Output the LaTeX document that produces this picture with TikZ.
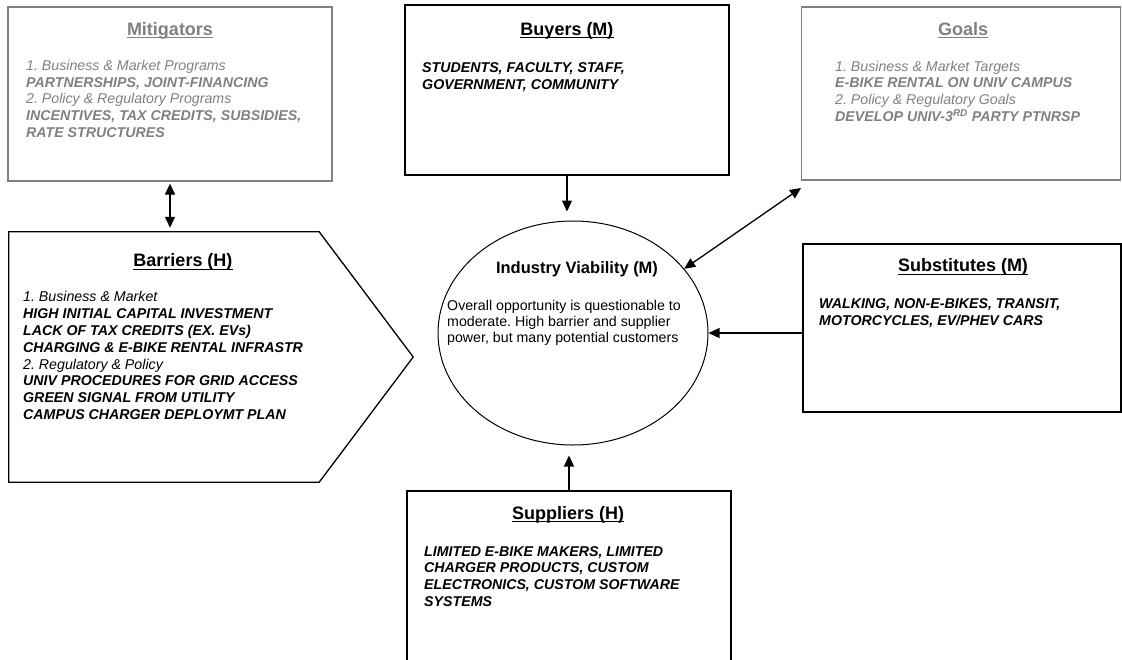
\documentclass[tikz,border=0pt]{standalone}
\usepackage{fontspec}
\setmainfont{Liberation Sans}
\usetikzlibrary{arrows.meta,shapes.geometric,calc}
\definecolor{mute}{RGB}{128,128,128}
\frenchspacing
% underline drawn at a fixed depth below the baseline
\newcommand{\headline}[1]{\setbox0=\hbox{#1}\rlap{\vrule height -2.2pt depth 3.4pt width \wd0}\box0}

\begin{document}
\begin{tikzpicture}[x=1pt,y=-1pt,
  >={Triangle[length=11pt,width=10pt]},
  panel/.style={draw, line width=1.3pt, rectangle, inner sep=0pt},
  softpanel/.style={panel, draw=mute},
  heading/.style={font=\fontsize{18}{21}\selectfont\bfseries, anchor=base, inner sep=0pt},
  % multi-line bodies are placed by the baseline of their last line
  body/.style={font=\fontsize{14.2}{16.8}\selectfont, anchor=base west, align=left, inner sep=0pt},
  link/.style={line width=1.3pt}
]
\clip (0,0) rectangle (1122,659);
\useasboundingbox (0,0) rectangle (1122,659);

% Mitigators
\node[softpanel, minimum width=324pt, minimum height=174pt] (mit) at (170,94) {};
\node[heading, text=mute] (mitT) at (170,35) {\headline{Mitigators}};
\node[body, text=mute] (mitB) at (26,137.5) {%
  {\itshape 1. Business \& Market Programs}\\
  {\bfseries\itshape PARTNERSHIPS, JOINT-FINANCING}\\
  {\itshape 2. Policy \& Regulatory Programs}\\
  {\bfseries\itshape INCENTIVES, TAX CREDITS, SUBSIDIES,}\\
  {\bfseries\itshape RATE STRUCTURES}};

% Buyers
\node[panel, minimum width=324pt, minimum height=170pt] (buy) at (567,90) {};
\node[heading] (buyT) at (567,35) {\headline{Buyers (M)}};
\node[body] (buyB) at (422,89.5) {%
  {\bfseries\itshape STUDENTS, FACULTY, STAFF,}\\
  {\bfseries\itshape GOVERNMENT, COMMUNITY}};

% Goals
\node[softpanel, minimum width=319pt, minimum height=173pt] (goal) at (961,93.5) {};
\node[heading, text=mute] (goalT) at (963,35) {\headline{Goals}};
\node[body, text=mute] (goalB) at (835,121.5) {%
  {\itshape 1. Business \& Market Targets}\\
  {\bfseries\itshape E-BIKE RENTAL ON UNIV CAMPUS}\\
  {\itshape 2. Policy \& Regulatory Goals}\\
  {\bfseries\itshape DEVELOP UNIV-3\textsuperscript{RD} PARTY PTNRSP}};

% Barriers (pentagon pointing right)
\node[minimum width=404pt, minimum height=250pt, inner sep=0pt] (bar) at (211,357) {};
\draw[line width=1.3pt, line join=miter]
  (bar.north west) -- ($(bar.north east)+(-94,0)$) -- (bar.east)
  -- ($(bar.south east)+(-94,0)$) -- (bar.south west) -- cycle;
\node[heading] (barT) at (183,266.5) {\headline{Barriers (H)}};
\node[body] (barB) at (23,419.5) {%
  {\itshape 1. Business \& Market}\\
  {\bfseries\itshape HIGH INITIAL CAPITAL INVESTMENT}\\
  {\bfseries\itshape LACK OF TAX CREDITS (EX. EVs)}\\
  {\bfseries\itshape CHARGING \& E-BIKE RENTAL INFRASTR}\\
  {\itshape 2. Regulatory \& Policy}\\
  {\bfseries\itshape UNIV PROCEDURES FOR GRID ACCESS}\\
  {\bfseries\itshape GREEN SIGNAL FROM UTILITY}\\
  {\bfseries\itshape CAMPUS CHARGER DEPLOYMT PLAN}};

% Industry viability
\node[draw, ellipse, line width=1pt, minimum width=270pt, minimum height=224pt, inner sep=0pt] (via) at (573,333) {};
\node[font=\fontsize{16.5}{19}\selectfont\bfseries, anchor=base, inner sep=0pt] (viaT) at (577,273) {Industry Viability (M)};
\node[body, font=\fontsize{14.2}{16}\selectfont] (viaB) at (447,342) {%
  Overall opportunity is questionable to\\
  moderate. High barrier and supplier\\
  power, but many potential customers};

% Substitutes
\node[panel, minimum width=318pt, minimum height=168pt] (sub) at (962,328) {};
\node[heading] (subT) at (963,271.5) {\headline{Substitutes (M)}};
\node[body] (subB) at (819,325) {%
  {\bfseries\itshape WALKING, NON-E-BIKES, TRANSIT,}\\
  {\bfseries\itshape MOTORCYCLES, EV/PHEV CARS}};

% Suppliers
\node[panel, minimum width=324pt, minimum height=188pt] (sup) at (569,585) {};
\node[heading] (supT) at (568,519) {\headline{Suppliers (H)}};
\node[body] (supB) at (424,606.5) {%
  {\bfseries\itshape LIMITED E-BIKE MAKERS, LIMITED}\\
  {\bfseries\itshape CHARGER PRODUCTS, CUSTOM}\\
  {\bfseries\itshape ELECTRONICS, CUSTOM SOFTWARE}\\
  {\bfseries\itshape SYSTEMS}};

% Connectors
\coordinate (gtip) at (801,188);
\draw[link,<->, shorten <=2pt, shorten >=4pt] (mit.south) -- (mit.south |- bar.north);
\draw[link,->, shorten >=9pt] (buy.south) -- (buy.south |- via.north);
\draw[link,->, shorten >=10pt] (sup.north) -- (sup.north |- via.south);
\draw[link,->] (sub.west |- via.east) -- (via.east);
\draw[link,<->] (via.30) -- (gtip);
\end{tikzpicture}
\end{document}
